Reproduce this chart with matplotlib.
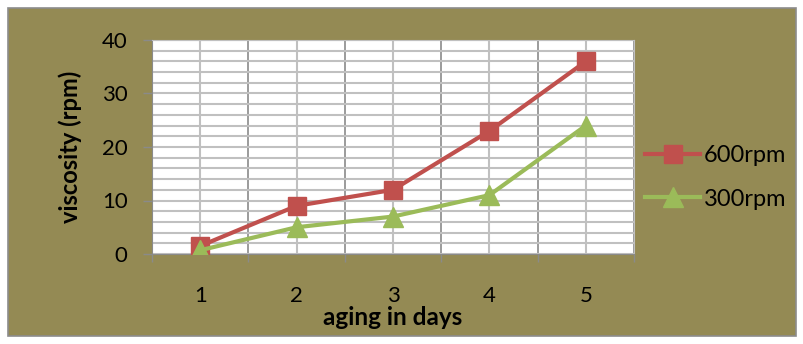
import matplotlib
matplotlib.use('Agg')
import matplotlib.pyplot as plt
from matplotlib.patches import Rectangle
from matplotlib.ticker import MultipleLocator

days = [1, 2, 3, 4, 5]
rpm_600 = [1.5, 9, 12, 23, 36]
rpm_300 = [0.7, 5, 7, 11, 24]
series_names = ['600rpm', '300rpm']

plt.rcParams['font.family'] = ['Lato', 'DejaVu Sans']

olive = '#948A54'
red = '#C0504D'
green = '#9BBB59'

fig = plt.figure(figsize=(8.04, 3.44), dpi=100)
fig.patch.set_facecolor('white')

# olive chart frame with a thin gray outline
frame = Rectangle((8 / 804, 8 / 344), 788 / 804, 328 / 344, transform=fig.transFigure,
                  facecolor=olive, edgecolor='#8c8c8c', linewidth=1.2, zorder=-10)
fig.patches.append(frame)

ax = fig.add_axes([152 / 804, 1 - 254 / 344, 482 / 804, 214 / 344])
ax.set_facecolor('white')

ax.plot(days, rpm_600, color=red, lw=3, marker='s', ms=13, label=series_names[0], zorder=4)
ax.plot(days, rpm_300, color=green, lw=3, marker='^', ms=14, label=series_names[1], zorder=5)

ax.set_xlim(0.5, 5.5)
ax.set_ylim(0, 40)

# category boundaries carry the darker gridlines, categories the lighter ones
ax.set_xticks([0.5, 1.5, 2.5, 3.5, 4.5, 5.5])
ax.set_xticks(days, minor=True)
ax.set_xticklabels([])
ax.set_xticklabels([str(d) for d in days], minor=True)
ax.yaxis.set_major_locator(MultipleLocator(10))
ax.yaxis.set_minor_locator(MultipleLocator(2))

ax.grid(which='major', axis='x', color='#8a8a8a', lw=1.2)
ax.grid(which='minor', axis='x', color='#c0c0c0', lw=1.5)
ax.grid(which='both', axis='y', color='#c0c0c0', lw=1.5)
ax.set_axisbelow(True)

ax.tick_params(axis='x', which='major', length=6, color='#8a8a8a', width=1)
ax.tick_params(axis='x', which='minor', length=0, pad=23, labelsize=16)
ax.tick_params(axis='y', which='major', length=6.5, color='#8a8a8a', width=1, labelsize=16, pad=11)
ax.tick_params(axis='y', which='minor', length=0)

for side in ['top', 'right']:
    ax.spines[side].set_color('#c0c0c0')
for side in ['left', 'bottom']:
    ax.spines[side].set_color('#8a8a8a')

ax.set_xlabel('aging in days', fontsize=17.5, fontweight='bold', labelpad=0)
ax.set_ylabel('viscosity (rpm)', fontsize=17, fontweight='bold', labelpad=14)

fig.legend(loc='center left', bbox_to_anchor=(645 / 804, 1 - 177.5 / 344), frameon=False,
           fontsize=17, handlelength=2.35, labelspacing=0.95, handletextpad=0.15,
           borderpad=0, borderaxespad=0)

fig.savefig('out.png', dpi=100, facecolor=fig.get_facecolor())
